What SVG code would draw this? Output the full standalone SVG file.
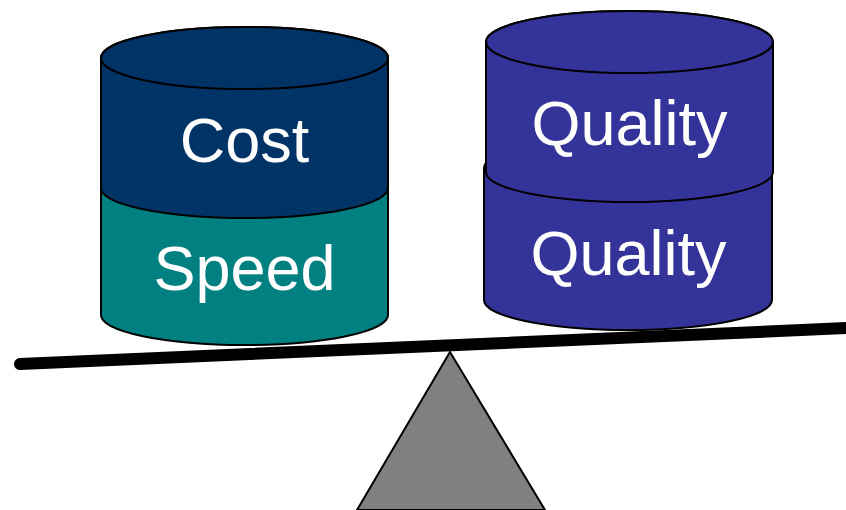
<svg xmlns="http://www.w3.org/2000/svg" width="846" height="510" viewBox="0 0 846 510">
<style>
.cyl{stroke:#000;stroke-width:2}
.cost{fill:#003366}
.speed{fill:#008080}
.qual{fill:#333399}
.lbl{font-family:"Liberation Sans",Arial,sans-serif;font-size:63px;fill:#fff;text-anchor:middle}
</style>
<rect width="846" height="510" fill="#fff"/>
<g id="fulcrum">
<polygon points="450,352 545,510 357,510" fill="#808080" stroke="#000" stroke-width="2"/>
</g>
<g id="speed">
<path class="cyl speed" d="M101,186 L101,315 A143.5,30 0 0 0 388,315 L388,186 A143.5,30 0 0 0 101,186 Z"/>
<text class="lbl" x="244.5" y="290">Speed</text>
</g>
<g id="cost">
<path class="cyl cost" d="M101,58 L101,188 A143.5,30 0 0 0 388,188 L388,58 A143.5,31 0 0 0 101,58 Z"/>
<ellipse class="cyl cost" cx="244.5" cy="58" rx="143.5" ry="31"/>
<text class="lbl" x="244.5" y="162">Cost</text>
</g>
<g id="quality-lower">
<path class="cyl qual" d="M484,168 L484,300 A144,30 0 0 0 772,300 L772,168 A144,30 0 0 0 484,168 Z"/>
<text class="lbl" x="628.5" y="275">Quality</text>
</g>
<g id="quality-upper">
<path class="cyl qual" d="M486,42 L486,172 A143.5,30 0 0 0 773,172 L773,42 A143.5,31 0 0 0 486,42 Z"/>
<ellipse class="cyl qual" cx="629.5" cy="42" rx="143.5" ry="31"/>
<text class="lbl" x="629.5" y="145">Quality</text>
</g>
<g id="beam">
<line x1="20" y1="364" x2="860" y2="327.5" stroke="#000" stroke-width="12" stroke-linecap="round"/>
</g>
</svg>
